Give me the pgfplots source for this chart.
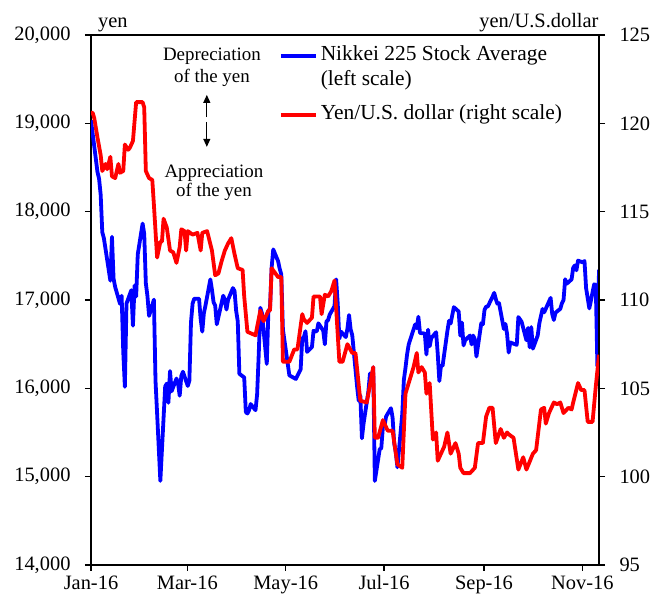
\documentclass[border=0pt]{standalone}
\usepackage{fontspec}
\setmainfont{Liberation Serif}
\usepackage{pgfplots}
\pgfplotsset{compat=1.18}
\usetikzlibrary{arrows.meta}

\pgfplotstableread{
day nikkei
-1 19034
3 18450
4 18374
5 18191
6 17767
7 17698
11 17219
12 17715
13 17240
14 17147
17 16956
18 17048
19 16416
20 16018
21 16959
24 17111
25 16709
26 17164
27 17041
28 17518
31 17865
32 17750
33 17191
34 17045
35 16820
38 17004
39 16085
40 15713
42 14952
45 16022
46 16054
47 15836
48 16196
49 15967
52 16111
53 16052
54 15916
55 16140
56 16188
59 16027
60 16086
61 16747
62 16960
63 17015
66 17015
67 16784
68 16642
69 16852
70 16939
73 17233
74 17117
75 16975
76 16937
77 16725
81 17049
82 17001
83 16892
84 17003
87 17135
88 17103
89 16879
90 16759
91 16165
94 16123
95 15733
96 15715
97 15750
98 15822
101 15752
102 15929
103 16381
104 16912
105 16849
108 16276
109 16874
110 16907
111 17364
112 17573
115 17440
116 17354
117 17290
118 16666
122 16147
126 16106
129 16216
130 16565
131 16579
132 16647
133 16412
136 16467
137 16652
138 16644
139 16646
140 16736
143 16654
144 16498
145 16757
146 16772
147 16834
150 16931
151 17234
152 16955
153 16562
154 16642
157 16580
158 16675
159 16830
160 16668
161 16601
164 16019
165 15859
166 15919
167 15434
168 15599
171 15965
172 16169
173 16065
174 16238
175 14952
178 15309
179 15323
180 15566
181 15576
182 15682
185 15775
186 15669
187 15379
188 15276
189 15106
192 15708
193 16095
194 16231
195 16385
196 16497
200 16723
201 16681
202 16810
203 16627
206 16620
207 16383
208 16664
209 16476
210 16569
213 16635
214 16391
215 16083
216 16254
217 16254
220 16650
221 16764
222 16735
224 16919
227 16869
228 16596
229 16745
230 16486
231 16545
234 16598
235 16497
236 16597
237 16555
238 16360
241 16737
242 16725
243 16887
244 16926
245 16925
248 17037
249 17081
250 17012
251 16958
252 16965
255 16672
256 16729
257 16614
258 16405
259 16519
263 16492
264 16807
266 16754
269 16544
270 16683
271 16465
272 16693
273 16449
276 16598
277 16735
278 16819
279 16899
280 16860
284 17024
285 16840
286 16774
287 16856
290 16900
291 16963
292 16998
293 17235
294 17184
297 17234
298 17365
299 17391
300 17336
301 17446
304 17425
305 17442
306 17134
308 16905
311 17177
312 17172
313 16251
314 17344
}\nikkei

\pgfplotstableread{
day yen
-1 120.6
0 120.6
1 120.3
3 119.2
5 118.2
6 117.3
8 117.7
9 117.4
11 118.1
12 117.0
14 116.9
16 117.7
17 117.2
19 117.3
20 118.8
22 118.5
23 118.6
25 119.0
27 121.2
31 121.2
32 120.9
33 117.3
35 116.9
37 116.8
38 115.4
40 112.4
42 113.3
43 113.3
44 114.6
46 114.1
48 112.8
50 112.7
52 112.1
54 113.0
55 114.0
57 113.9
58 112.8
59 113.9
62 113.7
65 113.8
67 112.8
68 113.8
71 113.9
74 112.8
76 111.4
78 111.5
80 112.2
82 112.8
84 113.2
86 113.5
88 112.6
90 111.8
93 111.7
94 110.2
96 108.2
101 108.0
104 109.4
106 108.8
109 109.4
110 109.4
111 111.8
115 111.3
117 111.3
118 106.5
122 106.5
125 107.2
127 107.2
130 109.2
131 108.9
133 108.7
136 109.0
137 110.2
141 110.2
142 109.2
144 110.3
146 110.2
148 110.5
150 111.1
153 106.5
155 106.5
158 107.5
161 107.0
163 107.0
166 104.3
170 104.2
171 104.7
174 106.2
175 102.2
177 102.2
180 103.2
183 102.6
186 102.6
189 100.7
192 100.5
194 104.7
196 105.3
199 106.2
201 107.0
202 105.9
204 106.2
206 105.9
207 104.7
209 105.3
211 102.1
213 102.5
214 100.9
218 101.7
220 102.5
222 101.3
225 101.9
227 101.3
228 100.5
230 100.2
234 100.2
237 100.5
239 101.9
242 101.9
244 103.4
246 103.9
248 103.9
250 101.9
253 102.7
255 102.2
257 102.5
258 102.4
261 102.2
264 100.4
267 101.1
269 100.4
273 101.3
275 101.5
278 103.8
280 103.9
281 103.0
283 103.6
286 104.2
288 104.1
290 104.2
292 103.6
295 103.9
297 103.8
298 104.2
301 105.3
303 104.9
305 104.9
307 103.1
310 103.1
312 105.1
314 106.9
}\yen

\begin{document}
\begin{tikzpicture}[font=\fontsize{20.5}{24}\selectfont]
\path[use as bounding box] (0,0) rectangle (656bp,601bp);
\pgfplotsset{
  common/.style={
    at={(91bp,36bp)}, anchor=south west,
    scale only axis, width=508bp, height=530bp,
    xmin=-1, xmax=314,
    tick align=outside,
    major tick length=6bp,
    axis line style={line width=1.4bp},
    every tick/.style={black, line width=1.2bp},
    /pgf/number format/assume math mode=true,
    tick label style={font=\fontsize{20.5}{24}\selectfont},
    clip mode=individual,
  }
}
\begin{axis}[common,
  ymin=14000, ymax=20000,
  ytick={14000,15000,...,20000},
  xtick={-1,58.7,119.7,180.7,242.7,303.7},
  xticklabels={Jan-16,Mar-16,May-16,Jul-16,Sep-16,Nov-16},
  xtick pos=bottom, ytick pos=left,
  scaled y ticks=false,
  yticklabel style={/pgf/number format/1000 sep={,}, xshift=-11bp},
  xticklabel style={yshift=-1bp},
]
\addplot[blue, line width=3.8bp, line join=round] table[x=day,y=nikkei] {\nikkei};
\node[anchor=base, font=\fontsize{20.5}{24}\selectfont] at (rel axis cs:0.043,1.015) {yen};
\node[anchor=base east, font=\fontsize{20.5}{24}\selectfont] at (rel axis cs:1.006,1.015) {yen/U.S.dollar};
\end{axis}
\begin{axis}[common,
  ymin=95, ymax=125,
  ytick={95,100,...,125},
  axis y line*=right, axis x line=none,
  yticklabel style={xshift=11bp},
  legend style={draw=none, fill=none, at={(0.370,0.982)}, anchor=north west,
    inner sep=0pt, outer sep=0pt, row sep=2bp,
    font=\fontsize{21.5}{24}\selectfont,
    nodes={inner sep=1bp, text height=15bp, text depth=6bp},
    /tikz/every odd column/.append style={column sep=2bp}},
  legend cell align=left,
  legend image code/.code={\draw[#1] (0bp,0bp) -- (35bp,0bp);},
]
\addlegendimage{blue, line width=3.8bp}
\addlegendentry{Nikkei 225 Stock Average}
\addlegendimage{empty legend}
\addlegendentry[text depth=15bp]{(left scale)}
\addplot[red, line width=3.8bp, line join=round] table[x=day,y=yen] {\yen};
\addlegendentry{Yen/U.S. dollar (right scale)}
\node[anchor=base, font=\fontsize{19}{22}\selectfont] at (rel axis cs:0.238,0.951) {Depreciation};
\node[anchor=base, font=\fontsize{19}{22}\selectfont] at (rel axis cs:0.238,0.911) {of the yen};
\node[anchor=base, font=\fontsize{19}{22}\selectfont] at (rel axis cs:0.242,0.732) {Appreciation};
\node[anchor=base, font=\fontsize{19}{22}\selectfont] at (rel axis cs:0.242,0.696) {of the yen};
\draw[line width=1.2bp, -{Triangle[length=8bp,width=7bp]}] (rel axis cs:0.228,0.845) -- (rel axis cs:0.228,0.887);
\draw[line width=1.2bp, -{Triangle[length=8bp,width=7bp]}] (rel axis cs:0.228,0.836) -- (rel axis cs:0.228,0.789);
\end{axis}
\end{tikzpicture}
\end{document}
